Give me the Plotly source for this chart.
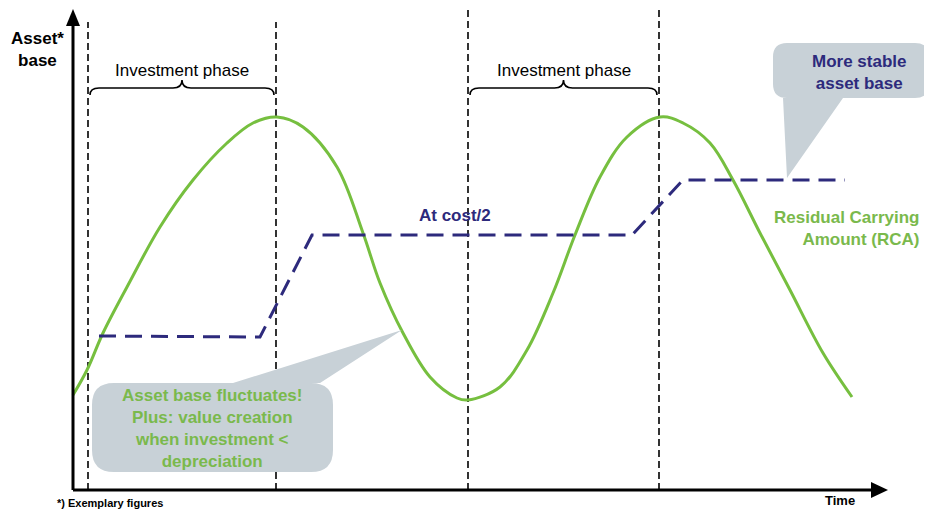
import plotly.graph_objects as go

# time runs from the y axis (0) to the right, value from the x axis (0) upwards
rca_time = [0, 14, 30, 54, 87, 120, 154, 180, 204, 230, 264, 290, 307, 330, 357, 384, 395,
            427, 454, 480, 502, 527, 554, 587, 610, 637, 660, 687, 717, 750, 779]
rca_value = [95, 120, 157, 203, 263, 310, 347, 367, 373, 363, 323, 257, 207, 157, 113, 92, 90,
             103, 140, 197, 255, 313, 353, 373, 367, 347, 310, 257, 200, 137, 93]

cost_time = [26, 187, 239, 559, 610, 772]
cost_value = [154, 153, 255, 255, 310, 310]

phase_marks = [15, 203, 395, 586]
phase_tops = [468, 468, 485, 485]
phases = [(17, 201), (397, 584)]

GREEN = "#76bf3f"
GREEN_TXT = "#7ab94c"
NAVY = "#2d2a7c"
BUBBLE = "#c8d1d7"
FONT = "Liberation Sans, Arial, sans-serif"

fig = go.Figure()

# dashed phase boundaries
for t, top in zip(phase_marks, phase_tops):
    fig.add_trace(go.Scatter(x=[t, t], y=[0, top], mode="lines",
                             line=dict(color="black", width=1.6, dash="7px,4px"),
                             hoverinfo="skip"))

fig.add_trace(go.Scatter(x=rca_time, y=rca_value, mode="lines", line_shape="spline",
                         line=dict(color=GREEN, width=3), name="RCA"))
fig.add_trace(go.Scatter(x=cost_time, y=cost_value, mode="lines",
                         line=dict(color=NAVY, width=3, dash="17px,9px"), name="At cost/2"))


def brace(x0, x1, yb):
    xm = (x0 + x1) / 2
    return (f"M {x0},{yb-7} Q {x0},{yb} {x0+9},{yb} L {xm-9},{yb} "
            f"Q {xm},{yb} {xm},{yb+8} Q {xm},{yb} {xm+9},{yb} "
            f"L {x1-9},{yb} Q {x1},{yb} {x1},{yb-7}")


def bubble(x0, x1, bot, top, r, side, pa, pb, tip):
    # rounded box with a wedge leaving from the top or bottom edge
    p = f"M {x0+r},{top} "
    if side == "top":
        p += f"L {pa},{top} L {tip[0]},{tip[1]} L {pb},{top} "
    p += f"L {x1-r},{top} Q {x1},{top} {x1},{top-r} L {x1},{bot+r} Q {x1},{bot} {x1-r},{bot} "
    if side == "bottom":
        p += f"L {pb},{bot} L {tip[0]},{tip[1]} L {pa},{bot} "
    p += f"L {x0+r},{bot} Q {x0},{bot} {x0},{bot+r} L {x0},{top-r} Q {x0},{top} {x0+r},{top} Z"
    return p


shapes = []
for a, b in phases:
    shapes.append(dict(type="path", path=brace(a, b, 402), line=dict(color="black", width=1.6)))

shapes.append(dict(type="path", layer="above", fillcolor=BUBBLE, line=dict(width=0),
                   path=bubble(700, 856, 392, 447, 14, "bottom", 710, 770, (714, 312))))
shapes.append(dict(type="path", layer="above", fillcolor=BUBBLE, line=dict(width=0),
                   path=bubble(19, 260, 18, 107, 22, "top", 160, 247, (329, 160))))

# axes with arrow heads
shapes.append(dict(type="line", x0=0, y0=0, x1=0, y1=470, line=dict(color="black", width=3)))
shapes.append(dict(type="line", x0=0, y0=0, x1=802, y1=0, line=dict(color="black", width=3)))
shapes.append(dict(type="path", path="M -7,464 L 7,464 L 0,481 Z", fillcolor="black",
                   line=dict(width=0)))
shapes.append(dict(type="path", path="M 798,-8 L 798,8 L 815,0 Z", fillcolor="black",
                   line=dict(width=0)))

annotations = [
    dict(x=-36, y=441, text="<b>Asset*<br>base</b>", font=dict(size=17, color="black")),
    dict(x=767, y=-10, text="<b>Time</b>", font=dict(size=13, color="black")),
    dict(x=-18, y=-13, text="<b>*) Exemplary figures</b>", xanchor="left",
         font=dict(size=11, color="black")),
    dict(x=382, y=275, text="<b>At cost/2</b>", font=dict(size=17, color=NAVY)),
    dict(x=849, y=262, text="<b>Residual Carrying<br>Amount (RCA)</b>", xanchor="right",
         align="right", font=dict(size=17, color=GREEN_TXT)),
    dict(x=786, y=418, text="<b>More stable<br>asset base</b>", font=dict(size=17, color=NAVY)),
    dict(x=139, y=62, text="<b>Asset base fluctuates!<br>Plus: value creation<br>"
                           "when investment &lt;<br>depreciation</b>",
         font=dict(size=17, color=GREEN_TXT)),
]
for a, b in phases:
    annotations.append(dict(x=(a + b) / 2, y=420, text="Investment phase",
                            font=dict(size=17, color="black")))
for an in annotations:
    an.setdefault("showarrow", False)
    an["font"]["family"] = FONT

# the page body adds an 8px margin, so the figure is 8px smaller to fit the window
fig.update_layout(
    width=924, height=502, margin=dict(l=0, r=0, t=0, b=0),
    paper_bgcolor="white", plot_bgcolor="white", showlegend=False,
    xaxis=dict(range=[-65, 859], visible=False, fixedrange=True),
    yaxis=dict(range=[-20, 482], visible=False, fixedrange=True),
    shapes=shapes, annotations=annotations, font=dict(family=FONT),
)

fig.write_html("out.html")
